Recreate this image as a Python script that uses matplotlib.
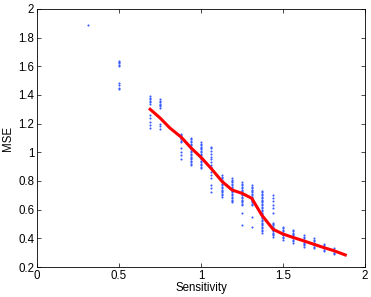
import numpy as np
import matplotlib
matplotlib.use('Agg')
import matplotlib.pyplot as plt

plt.rcParams['font.family'] = ['Liberation Sans', 'DejaVu Sans']

# scatter clusters: sensitivity -> MSE samples
sens_pts = [0.31, 0.50, 0.69, 0.75, 0.88, 0.94, 1.00, 1.06, 1.13, 1.19,
            1.25, 1.31, 1.37, 1.44, 1.50, 1.56, 1.63, 1.69, 1.75, 1.81]
mse_pts = [
    [1.89],
    [1.64, 1.63, 1.62, 1.61, 1.60, 1.48, 1.47, 1.45, 1.44],
    [1.39, 1.38, 1.37, 1.36, 1.35, 1.34, 1.26, 1.24, 1.21, 1.19, 1.17],
    [1.37, 1.36, 1.35, 1.34, 1.33, 1.32, 1.31, 1.20, 1.18, 1.16],
    [1.13, 1.12, 1.11, 1.10, 1.09, 1.08, 1.07, 1.03, 1.00, 0.98, 0.95],
    [1.10, 1.09, 1.08, 1.07, 1.06, 1.05, 1.04, 1.03, 1.02, 1.01, 1.00,
     0.99, 0.98, 0.97, 0.96, 0.95, 0.94, 0.93, 0.92, 0.91],
    [1.07, 1.06, 1.05, 1.04, 1.03, 1.02, 1.01, 1.00, 0.99, 0.98, 0.97,
     0.96, 0.95, 0.94, 0.93, 0.92, 0.91, 0.90, 0.89],
    [1.04, 1.03, 1.01, 0.99, 0.97, 0.95, 0.93, 0.91, 0.90, 0.86, 0.84,
     0.82, 0.77, 0.75, 0.72],
    [0.84, 0.83, 0.82, 0.81, 0.80, 0.79, 0.78, 0.77, 0.76, 0.75, 0.74,
     0.73, 0.72, 0.71, 0.70, 0.69],
    [0.82, 0.81, 0.80, 0.79, 0.78, 0.77, 0.76, 0.75, 0.74, 0.73, 0.72,
     0.71, 0.70, 0.69, 0.68, 0.67, 0.66, 0.65],
    [0.79, 0.78, 0.77, 0.76, 0.75, 0.74, 0.73, 0.72, 0.71, 0.70, 0.69,
     0.68, 0.67, 0.66, 0.65, 0.64, 0.63, 0.58, 0.49],
    [0.77, 0.76, 0.75, 0.74, 0.73, 0.72, 0.71, 0.70, 0.69, 0.68, 0.67,
     0.66, 0.65, 0.64, 0.63, 0.55, 0.48],
    [0.73, 0.72, 0.71, 0.70, 0.69, 0.68, 0.67, 0.66, 0.65, 0.64, 0.63,
     0.62, 0.61, 0.60, 0.59, 0.58, 0.57, 0.56, 0.55, 0.54, 0.53, 0.52,
     0.51, 0.50, 0.49, 0.48, 0.47, 0.46, 0.45, 0.44],
    [0.70, 0.68, 0.66, 0.63, 0.61, 0.58, 0.51, 0.50, 0.49, 0.48, 0.47,
     0.46, 0.45, 0.44, 0.43, 0.42, 0.41],
    [0.48, 0.47, 0.46, 0.45, 0.44, 0.43, 0.42, 0.41, 0.40, 0.39],
    [0.46, 0.45, 0.44, 0.43, 0.42, 0.41, 0.40, 0.39, 0.38, 0.37],
    [0.42, 0.41, 0.40, 0.39, 0.38, 0.37, 0.36, 0.35, 0.34],
    [0.40, 0.39, 0.38, 0.37, 0.36, 0.35, 0.34, 0.33],
    [0.36, 0.35, 0.34, 0.33, 0.32, 0.31],
    [0.33, 0.32, 0.31, 0.30, 0.29],
]

# mean curve
sens_line = [0.69, 0.75, 0.81, 0.88, 0.94, 1.00, 1.06, 1.13, 1.19, 1.25,
             1.31, 1.37, 1.44, 1.50, 1.56, 1.63, 1.69, 1.75, 1.81, 1.88]
mse_line = [1.30, 1.24, 1.17, 1.105, 1.03, 0.965, 0.89, 0.795, 0.737, 0.714,
            0.679, 0.563, 0.463, 0.43, 0.407, 0.381, 0.358, 0.335, 0.314, 0.284]

xticks = [0, 0.5, 1, 1.5, 2]
yticks = [0.2, 0.4, 0.6, 0.8, 1, 1.2, 1.4, 1.6, 1.8, 2]

fig = plt.figure(figsize=(3.71, 2.97), dpi=100)
ax = fig.add_axes([0.0997, 0.101, 0.884, 0.869])

for s, ys in zip(sens_pts, mse_pts):
    ax.plot([s] * len(ys), ys, '.', color='#3a5cff', markersize=3,
            markeredgewidth=0)
ax.plot(sens_line, mse_line, '-', color='#ff0000', linewidth=2.2)

ax.set_xlim(0, 2)
ax.set_ylim(0.2, 2)
ax.set_xticks(xticks)
ax.set_xticklabels(['%g' % t for t in xticks])
ax.set_yticks(yticks)
ax.set_yticklabels(['%g' % t for t in yticks])
ax.tick_params(direction='in', length=3, width=0.5, labelsize=8.3,
               top=True, right=True, pad=2)
for sp in ax.spines.values():
    sp.set_linewidth(0.6)
ax.set_xlabel('Sensitivity', fontsize=8.3, labelpad=0)
ax.set_ylabel('MSE', fontsize=8.3, labelpad=3)

plt.savefig('out.png', dpi=100)
